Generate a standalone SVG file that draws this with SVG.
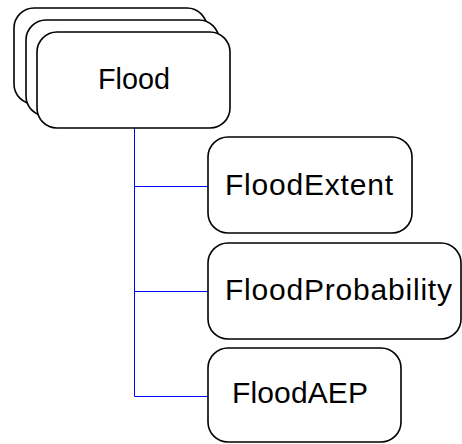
<svg xmlns="http://www.w3.org/2000/svg" width="462" height="444" viewBox="0 0 462 444">
<style>
.box{fill:#ffffff;stroke:#000000;stroke-width:1.6}
.lbl{font-family:"Liberation Sans",Arial,sans-serif;font-size:30px;fill:#000000}
.conn{stroke:#0000ff;stroke-width:1;fill:none}
</style>
<rect width="462" height="444" fill="#ffffff"/>
<g id="connectors">
<path class="conn" d="M134.5,128 V396.5 M134.5,186.5 H208 M134.5,291.5 H208 M134.5,396.5 H208"/>
</g>
<g id="node-flood">
<rect class="box" x="14" y="8" width="193" height="96" rx="20"/>
<rect class="box" x="26" y="20" width="193" height="96" rx="20"/>
<rect class="box" x="37" y="32" width="193" height="96" rx="20"/>
<text class="lbl" x="98" y="89" textLength="72" lengthAdjust="spacingAndGlyphs">Flood</text>
</g>
<g id="node-floodextent">
<rect class="box" x="208" y="137" width="204" height="96" rx="20"/>
<text class="lbl" x="225" y="195" textLength="168" lengthAdjust="spacing">FloodExtent</text>
</g>
<g id="node-floodprobability">
<rect class="box" x="208" y="243" width="253" height="96" rx="20"/>
<text class="lbl" x="225" y="300" textLength="227" lengthAdjust="spacing">FloodProbability</text>
</g>
<g id="node-floodaep">
<rect class="box" x="208" y="348" width="193" height="94" rx="20"/>
<text class="lbl" x="232" y="403" textLength="136" lengthAdjust="spacing">FloodAEP</text>
</g>
</svg>
